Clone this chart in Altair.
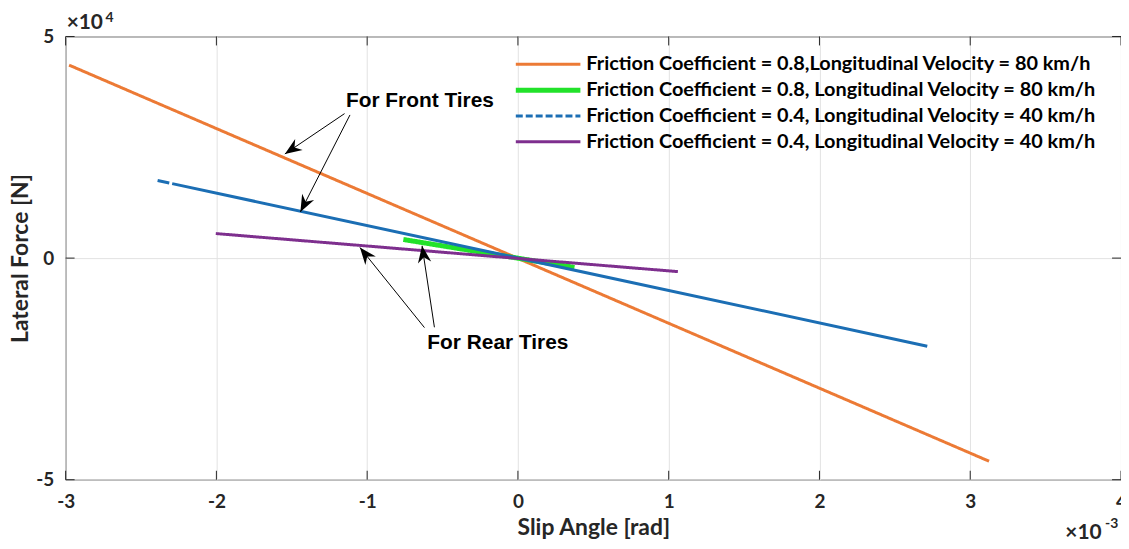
import math
import altair as alt
import pandas as pd

# ---------------- data (slip angle in rad, lateral force in N)
series_labels = [
    "Friction Coefficient = 0.8,Longitudinal Velocity = 80 km/h",
    "Friction Coefficient = 0.8, Longitudinal Velocity = 80 km/h",
    "Friction Coefficient = 0.4, Longitudinal Velocity = 40 km/h",
    "Friction Coefficient = 0.4, Longitudinal Velocity = 40 km/h",
]
series_colors = ["#EC7A35", "#22E22A", "#1B6EB4", "#7E2F8E"]
line_dash = [[1, 0], [1, 0], [12, 3, 3000, 0], [1, 0]]
legend_dash = [[1, 0], [1, 0], [7, 3], [1, 0]]
series_width = [3, 5, 3, 3]

orange_x = [-0.002977, 0.003125]
orange_y = [43540, -45830]
green_x = [-0.00076, 0.000375]
green_y = [4200, -2100]
blue_x = [-0.00239, 0.002715]
blue_y = [17520, -19870]
purple_x = [-0.002004, 0.001061]
purple_y = [5540, -3050]

x_ticks = [-0.003, -0.002, -0.001, 0.0, 0.001, 0.002, 0.003, 0.004]
y_ticks = [-50000, 0, 50000]

annotation_texts = ["For Front Tires", "For Rear Tires"]
annotation_x = [-0.00065, -0.000133]
annotation_y = [35500, -19200]

arrow_tail_x = [-0.001150, -0.001114, -0.000620, -0.000554]
arrow_tail_y = [32600, 32300, -15680, -15610]
arrow_tip_x = [-0.001546, -0.001443, -0.001048, -0.000636]
arrow_tip_y = [23500, 10400, 2400, 2780]

exponent_base = ["×10", "×10"]
exponent_power = ["4", "-3"]

# ---------------- layout / style
W, H = 1062, 446
X_DOM = [-0.003, 0.004]
Y_DOM = [-50000, 50000]
AX = "#262626"
FONT = "Lato"

xs = alt.Scale(domain=X_DOM, nice=False, zero=False)
ys = alt.Scale(domain=Y_DOM, nice=False, zero=False)

common_axis = dict(grid=True, gridColor="#e2e2e2", ticks=False, domain=False,
                   labelFlush=False, labelOverlap=False, labelFont=FONT,
                   labelFontSize=19, labelFontWeight="bold", labelColor=AX,
                   titleFont=FONT, titleFontSize=23, titleFontWeight="bold",
                   titleColor=AX)
x_axis = alt.Axis(values=x_ticks, labelExpr="'' + round(datum.value*1000)",
                  title="Slip Angle [rad]", labelPadding=13, titlePadding=5,
                  **common_axis)
y_axis = alt.Axis(values=y_ticks, labelExpr="'' + round(datum.value/10000)",
                  title="Lateral Force [N]", labelPadding=12, titlePadding=3,
                  **common_axis)

series_xy = [(orange_x, orange_y), (green_x, green_y), (blue_x, blue_y), (purple_x, purple_y)]
line_layers = []
for i, (xx, yy) in enumerate(series_xy):
    d = pd.DataFrame({"x": xx, "y": yy})
    line_layers.append(alt.Chart(d).mark_line(
        color=series_colors[i], strokeWidth=series_width[i],
        strokeDash=line_dash[i], strokeCap="butt").encode(
        x=alt.X("x:Q", scale=xs, axis=x_axis),
        y=alt.Y("y:Q", scale=ys, axis=y_axis)))

# arrows
def ang(i):
    dxs = (arrow_tip_x[i] - arrow_tail_x[i]) / (X_DOM[1] - X_DOM[0]) * W
    dys = -(arrow_tip_y[i] - arrow_tail_y[i]) / (Y_DOM[1] - Y_DOM[0]) * H
    return math.degrees(math.atan2(dxs, -dys)) % 360

arrow_df = pd.DataFrame({"x": arrow_tail_x, "y": arrow_tail_y, "x2": arrow_tip_x, "y2": arrow_tip_y,
                         "ang": [ang(i) for i in range(len(arrow_tip_x))]})
shafts = alt.Chart(arrow_df).mark_rule(color="black", strokeWidth=1).encode(
    x=alt.X("x:Q", scale=xs, axis=x_axis), y=alt.Y("y:Q", scale=ys, axis=y_axis),
    x2="x2:Q", y2="y2:Q")
heads = alt.Chart(arrow_df).mark_point(
    shape="M0,0 L0.75,1.9 L0,1.3 L-0.75,1.9 Z", filled=True, color="black",
    opacity=1, size=324, strokeWidth=0).encode(
    x=alt.X("x2:Q", scale=xs, axis=x_axis), y=alt.Y("y2:Q", scale=ys, axis=y_axis),
    angle=alt.Angle("ang:Q", scale=None))

ann_df = pd.DataFrame({"x": annotation_x, "y": annotation_y, "t": annotation_texts})
ann = alt.Chart(ann_df).mark_text(font="Liberation Sans", fontSize=21, fontWeight="bold",
                                  color="black", align="center", baseline="middle").encode(
    x=alt.X("x:Q", scale=xs, axis=x_axis), y=alt.Y("y:Q", scale=ys, axis=y_axis), text="t:N")

# inward ticks (MATLAB style)
xt_df = pd.DataFrame({"t": x_ticks})
yt_df = pd.DataFrame({"t": y_ticks})
TL = 9
tick_layers = [
    alt.Chart(xt_df).mark_rule(color=AX, strokeWidth=1).encode(
        x=alt.X("t:Q", scale=xs, axis=x_axis), y=alt.value(H - TL), y2=alt.value(H)),
    alt.Chart(xt_df).mark_rule(color=AX, strokeWidth=1).encode(
        x=alt.X("t:Q", scale=xs, axis=x_axis), y=alt.value(0), y2=alt.value(TL)),
    alt.Chart(yt_df).mark_rule(color=AX, strokeWidth=1).encode(
        y=alt.Y("t:Q", scale=ys, axis=y_axis), x=alt.value(0), x2=alt.value(TL)),
    alt.Chart(yt_df).mark_rule(color=AX, strokeWidth=1).encode(
        y=alt.Y("t:Q", scale=ys, axis=y_axis), x=alt.value(W - TL), x2=alt.value(W)),
]

# legend (manual, top right inside the plot)
legend_layers = []
for i in range(4):
    d = pd.DataFrame({"label": [series_labels[i]]})
    yy = 28 + 26 * i
    legend_layers.append(alt.Chart(d).mark_rule(strokeCap="butt").encode(
        x=alt.value(453), x2=alt.value(518), y=alt.value(yy),
        color=alt.value(series_colors[i]), strokeWidth=alt.value(series_width[i]),
        strokeDash=alt.value(legend_dash[i])))
    legend_layers.append(alt.Chart(d).mark_text(
        font=FONT, fontSize=20, fontWeight="bold", color="black", align="left",
        baseline="middle").encode(x=alt.value(524), y=alt.value(yy), text="label:N"))

# exponent labels
exp_layers = []
for base, pw, bx, by, px, py in [(exponent_base[0], exponent_power[0], 1, -14, 40, -19),
                                 (exponent_base[1], exponent_power[1], 1006, 500, 1046, 491)]:
    d = pd.DataFrame({"b": [base], "p": [pw]})
    exp_layers.append(alt.Chart(d).mark_text(font=FONT, fontSize=21, fontWeight="bold",
                                             color=AX, align="left", baseline="middle").encode(
        x=alt.value(bx), y=alt.value(by), text="b:N"))
    exp_layers.append(alt.Chart(d).mark_text(font=FONT, fontSize=14, fontWeight="bold",
                                             color=AX, align="left", baseline="middle").encode(
        x=alt.value(px), y=alt.value(py), text="p:N"))

chart = alt.layer(*line_layers, shafts, heads, ann,
                  *tick_layers, *legend_layers, *exp_layers).properties(
    width=W, height=H,
    autosize=alt.AutoSizeParams(type="none"),
    padding={"left": 58, "top": 27, "right": 0, "bottom": 60},
    background="white",
).configure_view(stroke=AX, strokeWidth=1)

chart.save("out.html", embed_options={"renderer": "svg", "actions": False})
